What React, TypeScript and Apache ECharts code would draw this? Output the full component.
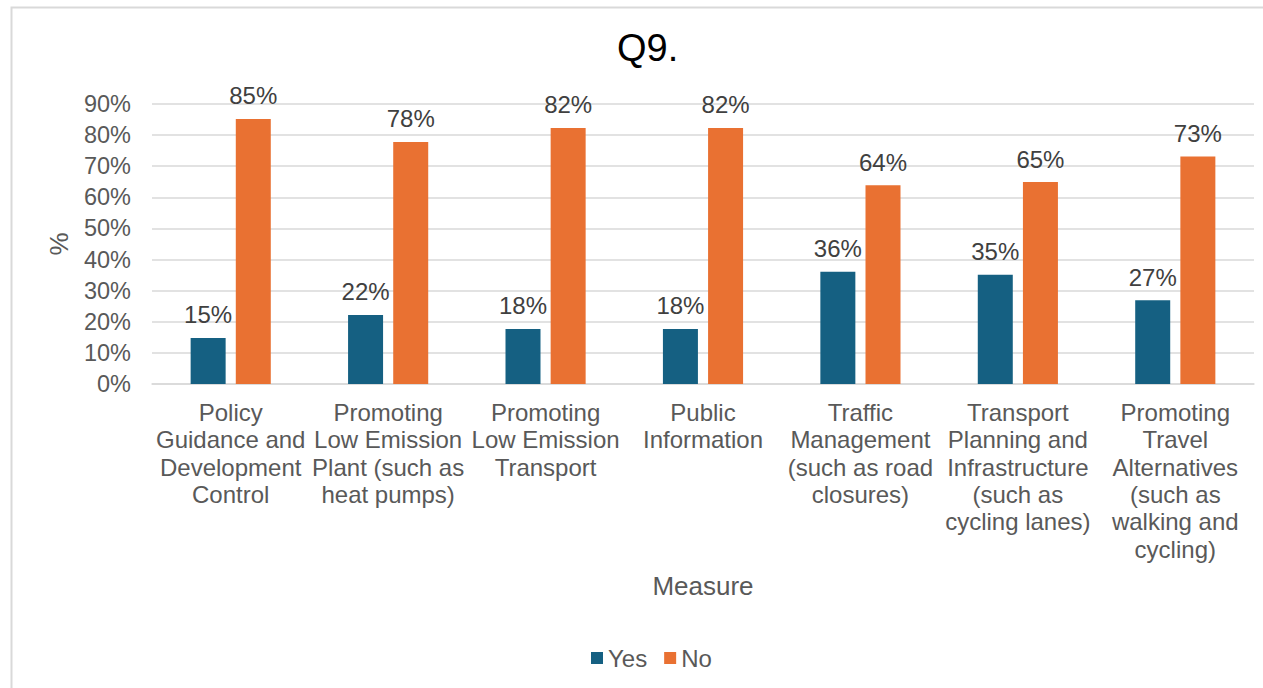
import React, { useEffect, useRef } from "react";
import * as echarts from "echarts";

const categories = [
  "Policy\nGuidance and\nDevelopment\nControl",
  "Promoting\nLow Emission\nPlant (such as\nheat pumps)",
  "Promoting\nLow Emission\nTransport",
  "Public\nInformation",
  "Traffic\nManagement\n(such as road\nclosures)",
  "Transport\nPlanning and\nInfrastructure\n(such as\ncycling lanes)",
  "Promoting\nTravel\nAlternatives\n(such as\nwalking and\ncycling)",
];
const yesValues = [14.8, 22.2, 17.7, 17.7, 36.1, 35.1, 26.9];
const noValues = [85.2, 77.8, 82.3, 82.3, 63.9, 64.9, 73.1];
const yTicks = [0, 10, 20, 30, 40, 50, 60, 70, 80, 90];

const FONT = "'Liberation Sans', Arial, sans-serif";
const TXT = "#595959";

export default function App() {
  const ref = useRef<HTMLDivElement>(null);
  useEffect(() => {
    const chart = echarts.init(ref.current!, null, { renderer: "svg" });
    const label = {
      show: true,
      position: "top" as const,
      distance: 11,
      formatter: (p: any) => Math.round(p.value) + "%",
      color: "#404040",
      fontSize: 24,
      fontFamily: FONT,
    };
    chart.setOption({
      animation: false,
      textStyle: { fontFamily: FONT },
      graphic: [
        {
          type: "rect",
          shape: { x: 11.5, y: 7.5, width: 1300, height: 700 },
          style: { fill: "none", stroke: "#D9D9D9", lineWidth: 2 },
          silent: true,
        },
      ],
      title: {
        text: "Q9.",
        left: 617,
        top: 29,
        padding: 0,
        textStyle: { fontSize: 38, fontWeight: "normal", color: "#000", fontFamily: FONT },
      },
      legend: {
        data: ["Yes", "No"],
        left: 591,
        top: 646,
        padding: 0,
        itemWidth: 12,
        itemHeight: 12,
        itemGap: 17,
        icon: "rect",
        textStyle: { fontSize: 24, color: TXT, fontFamily: FONT },
      },
      grid: { left: 152, right: 9, top: 104, bottom: 304, containLabel: false },
      xAxis: {
        type: "category",
        data: categories,
        name: "Measure",
        nameLocation: "middle",
        nameGap: 189,
        nameTextStyle: { fontSize: 26, color: TXT, fontFamily: FONT },
        axisLine: { show: true, lineStyle: { color: "#D9D9D9", width: 1.5 } },
        axisTick: { show: false },
        axisLabel: {
          interval: 0,
          fontSize: 24,
          lineHeight: 27.3,
          color: TXT,
          fontFamily: FONT,
          margin: 15,
        },
      },
      yAxis: {
        type: "value",
        min: 0,
        max: 90,
        interval: 10,
        name: "%",
        nameLocation: "middle",
        nameGap: 80,
        nameRotate: 90,
        nameTextStyle: { fontSize: 26, color: TXT, fontFamily: FONT },
        axisLabel: {
          formatter: (v: number) => (yTicks.includes(v) ? v + "%" : ""),
          fontSize: 23.5,
          color: TXT,
          fontFamily: FONT,
          margin: 21,
        },
        splitLine: { lineStyle: { color: "#D9D9D9", width: 1.5 } },
        axisLine: { show: false },
        axisTick: { show: false },
      },
      series: [
        {
          name: "Yes",
          type: "bar",
          data: yesValues,
          barWidth: 35,
          barGap: "29%",
          itemStyle: { color: "#156082" },
          label,
        },
        {
          name: "No",
          type: "bar",
          data: noValues,
          barWidth: 35,
          itemStyle: { color: "#E97132" },
          label,
        },
      ],
    });
    return () => chart.dispose();
  }, []);
  return (
    <div
      ref={ref}
      style={{ position: "absolute", left: 0, top: 0, width: 1263, height: 688, background: "#fff" }}
    />
  );
}
